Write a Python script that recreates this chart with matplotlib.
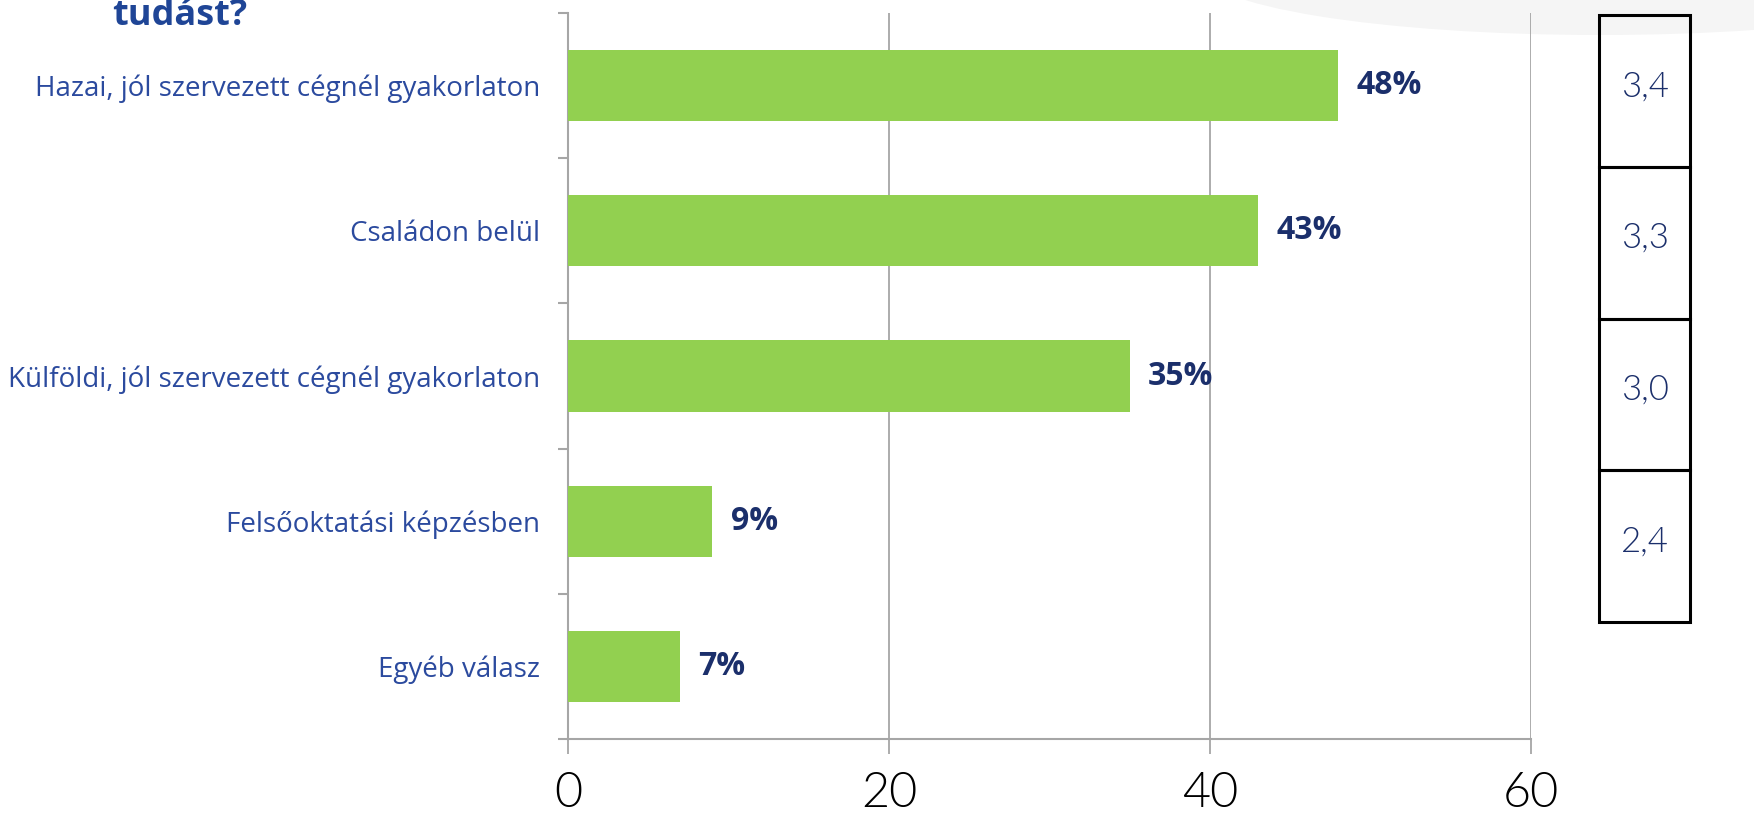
import matplotlib
matplotlib.use("Agg")
import matplotlib.pyplot as plt
from matplotlib.patches import Rectangle, Ellipse
import numpy as np

# ---- data ----
categories = [
    "Hazai, jól szervezett cégnél gyakorlaton",
    "Családon belül",
    "Külföldi, jól szervezett cégnél gyakorlaton",
    "Felsőoktatási képzésben",
    "Egyéb válasz",
]
values = [48, 43, 35, 9, 7]
scores = [3.4, 3.3, 3.0, 2.4]
xticks = [0, 20, 40, 60]
title_fragment = "tudást?"

# ---- styles ----
W, H = 1754, 815
BAR = "#92d050"
GRID = "#a6a6a6"
CAT_BLUE = "#2b4a9e"
VAL_NAVY = "#1b2f6b"
TITLE_BLUE = "#1f4596"
FONT = "Open Sans"
LIGHT = "Lato"

fig = plt.figure(figsize=(W / 100, H / 100), dpi=100)
fig.patch.set_facecolor("white")

# faint background swoosh in top-right corner
fig.patches.append(Ellipse((1600 / W, 1 + 30 / H), 800 / W, 130 / H,
                           transform=fig.transFigure, facecolor="#f5f5f5",
                           edgecolor="none", zorder=-1))

ax = fig.add_axes([568 / W, 1 - 739 / H, (1531 - 568) / W, (739 - 13) / H])
ax.patch.set_alpha(0)
y = np.arange(len(categories))
ax.barh(y, values, height=0.49, color=BAR, zorder=3)

ax.set_xlim(0, 60)
ax.set_ylim(len(categories) - 0.5, -0.5)

for s in ["top", "right"]:
    ax.spines[s].set_visible(False)
for s in ["left", "bottom"]:
    ax.spines[s].set_color(GRID)
    ax.spines[s].set_linewidth(1.5)

ax.set_xticks(xticks)
ax.set_xticklabels([str(t) for t in xticks], fontsize=35, fontfamily=LIGHT,
                   fontweight=300, color="black")
ax.tick_params(axis="x", length=11, width=1.3, color=GRID, pad=12)
ax.xaxis.grid(True, color=GRID, linewidth=1.3, zorder=0)
ax.set_axisbelow(True)

ax.set_yticks(y)
ax.set_yticklabels(categories, fontsize=20, fontfamily=FONT, color=CAT_BLUE)
ax.tick_params(axis="y", which="major", length=0, pad=20)
ax.set_yticks(np.arange(-0.5, len(categories), 1), minor=True)
ax.tick_params(axis="y", which="minor", length=7, width=1.5, color=GRID)

for yi, v in zip(y, values):
    ax.annotate(f"{v}%", xy=(v, yi), xytext=(13, 0), textcoords="offset points",
                ha="left", va="center", fontsize=23, fontweight="bold",
                fontfamily=FONT, color=VAL_NAVY, zorder=4)

fig.text(112 / W, 1 - 25 / H, title_fragment, ha="left", va="baseline",
         fontsize=26, fontweight="bold", fontfamily=FONT, color=TITLE_BLUE)

# ---- score table on the right ----
tax = fig.add_axes([1599 / W, 1 - 622 / H, 91 / W, 607 / H])
tax.set_xlim(0, 1)
tax.set_ylim(len(scores), 0)
tax.axis("off")
for i, sc in enumerate(scores):
    tax.add_patch(Rectangle((0, i), 1, 1, fill=False, edgecolor="black",
                            linewidth=2.2, clip_on=False))
    tax.text(0.5, i + 0.47, f"{sc:.1f}".replace(".", ","), ha="center",
             va="center", fontsize=25, fontfamily=LIGHT, fontweight=300,
             color=VAL_NAVY)

fig.savefig("out.png", dpi=100)
